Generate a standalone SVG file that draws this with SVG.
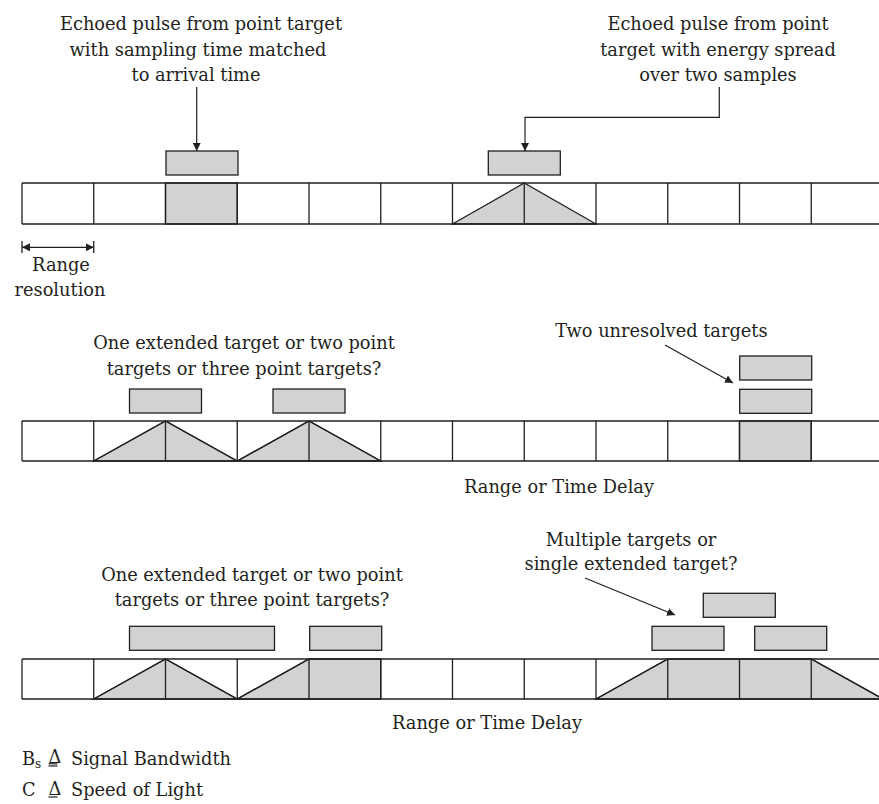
<svg xmlns="http://www.w3.org/2000/svg" width="879" height="804" viewBox="0 0 879 804">
<style>
text{font-family:"DejaVu Serif","Liberation Serif",serif;font-size:17.8px;fill:#231f20}
.c{text-anchor:middle}
.g{fill:#d1d2d4;stroke:#231f20;stroke-width:1.3;stroke-linejoin:miter}
.l{fill:none;stroke:#231f20;stroke-width:1.3}
.a{fill:none;stroke:#231f20;stroke-width:1.2}
</style>
<defs>
<marker id="ah" viewBox="0 0 10 10" refX="10" refY="5" markerWidth="8" markerHeight="8" markerUnits="userSpaceOnUse" orient="auto">
<path d="M0,0 L10,5 L0,10 z" fill="#231f20"/>
</marker>
<marker id="ahs" viewBox="0 0 10 10" refX="10" refY="5" markerWidth="8" markerHeight="8" markerUnits="userSpaceOnUse" orient="auto-start-reverse">
<path d="M0,0 L10,5 L0,10 z" fill="#231f20"/>
</marker>
</defs>
<rect width="879" height="804" fill="#ffffff"/>

<!-- Row 1 -->
<g id="row1">
<rect class="g" x="165.5" y="183" width="71.75" height="41"/>
<polygon class="g" points="452.5,224 524.25,183 596,224"/>
<path class="l" d="M22,183H879M22,224H879M22,183V224M93.75,183V224M165.5,183V224M237.25,183V224M309,183V224M380.75,183V224M452.5,183V224M524.25,183V224M596,183V224M667.75,183V224M739.5,183V224M811.25,183V224"/>
</g>
<g id="pulse1a"><rect class="g" x="166" y="151" width="72" height="24"/></g>
<g id="pulse1b"><rect class="g" x="488.3" y="151" width="72" height="24"/></g>

<g id="label1">
<text class="c" x="201" y="30">Echoed pulse from point target</text>
<text class="c" x="198" y="55.5">with sampling time matched</text>
<text class="c" x="196" y="81">to arrival time</text>
</g>
<g id="label2">
<text class="c" x="718" y="30">Echoed pulse from point</text>
<text class="c" x="718" y="55.5">target with energy spread</text>
<text class="c" x="718" y="81">over two samples</text>
</g>
<g id="rangeres">
<line class="l" x1="22" y1="241" x2="22" y2="253"/>
<line class="l" x1="93.75" y1="241" x2="93.75" y2="253"/>
<text class="c" x="61" y="271">Range</text>
<text class="c" x="60" y="296">resolution</text>
</g>

<!-- Row 2 -->
<g id="row2">
<polygon class="g" points="93.75,461 165.5,421 237.25,461 309,421 380.75,461"/>
<rect class="g" x="739.5" y="421" width="71.75" height="40"/>
<path class="l" d="M22,421H879M22,461H879M22,421V461M93.75,421V461M165.5,421V461M237.25,421V461M309,421V461M380.75,421V461M452.5,421V461M524.25,421V461M596,421V461M667.75,421V461M739.5,421V461M811.25,421V461"/>
<polyline class="l" points="93.75,461 165.5,421 237.25,461 309,421 380.75,461"/>
</g>
<g id="pulse2a"><rect class="g" x="129.5" y="389" width="72" height="24"/></g>
<g id="pulse2b"><rect class="g" x="273" y="389" width="72" height="24"/></g>
<g id="pulse2c"><rect class="g" x="739.7" y="356" width="72" height="24"/></g>
<g id="pulse2d"><rect class="g" x="739.7" y="389.3" width="72" height="24"/></g>
<g id="label3">
<text class="c" x="244" y="349">One extended target or two point</text>
<text class="c" x="244" y="375">targets or three point targets?</text>
</g>
<g id="label4"><text class="c" x="661.5" y="337">Two unresolved targets</text></g>
<g id="axis2"><text class="c" x="559" y="493">Range or Time Delay</text></g>

<!-- Row 3 -->
<g id="row3">
<polygon class="g" points="93.75,699 165.5,659 237.25,699 309,659 380.75,659 380.75,699"/>
<polygon class="g" points="596,699 667.75,659 811.25,659 883,699"/>
<path class="l" d="M22,659H879M22,699H879M22,659V699M93.75,659V699M165.5,659V699M237.25,659V699M309,659V699M380.75,659V699M452.5,659V699M524.25,659V699M596,659V699M667.75,659V699M739.5,659V699M811.25,659V699"/>
<polyline class="l" points="93.75,699 165.5,659 237.25,699 309,659"/>
<polyline class="l" points="596,699 667.75,659"/>
<polyline class="l" points="811.25,659 883,699"/>
</g>
<g id="pulse3a"><rect class="g" x="129.5" y="626.3" width="145" height="24"/></g>
<g id="pulse3b"><rect class="g" x="309.7" y="626.3" width="72" height="24"/></g>
<g id="pulse3c"><rect class="g" x="703.3" y="593.3" width="72" height="24"/></g>
<g id="pulse3d"><rect class="g" x="652" y="626.3" width="72" height="24"/></g>
<g id="pulse3e"><rect class="g" x="754.7" y="626.3" width="72" height="24"/></g>
<g id="label5">
<text class="c" x="252" y="581">One extended target or two point</text>
<text class="c" x="252" y="606">targets or three point targets?</text>
</g>
<g id="label6">
<text class="c" x="631" y="546">Multiple targets or</text>
<text class="c" x="631" y="570">single extended target?</text>
</g>
<g id="axis3"><text class="c" x="487" y="729">Range or Time Delay</text></g>

<!-- Legend -->
<g id="legend">
<text x="22" y="765">B<tspan font-size="12" dy="3">s</tspan></text>
<text x="48.5" y="762.5" font-size="12">Δ</text>
<line class="a" x1="48.5" y1="763.8" x2="57.5" y2="763.8" stroke-width="0.9"/>
<line class="a" x1="48.5" y1="766" x2="57.5" y2="766" stroke-width="0.9"/>
<text x="71" y="765">Signal Bandwidth</text>
<text x="22" y="795.5">C</text>
<text x="48.5" y="795" font-size="12">Δ</text>
<line class="a" x1="48.5" y1="797" x2="57.5" y2="797" stroke-width="0.9"/>
<text x="71" y="795.5">Speed of Light</text>
</g>

<!-- Connectors -->
<g id="connectors">
<line class="a" x1="196.7" y1="87" x2="196.7" y2="151" marker-end="url(#ah)"/>
<polyline class="a" points="719.3,87 719.3,117.3 525,117.3 525,151" marker-end="url(#ah)"/>
<line class="a" x1="22" y1="247.3" x2="93.75" y2="247.3" marker-start="url(#ahs)" marker-end="url(#ah)"/>
<line class="a" x1="665" y1="345" x2="733" y2="383" marker-end="url(#ah)"/>
<line class="a" x1="585" y1="578" x2="675" y2="615" marker-end="url(#ah)"/>
</g>
</svg>
